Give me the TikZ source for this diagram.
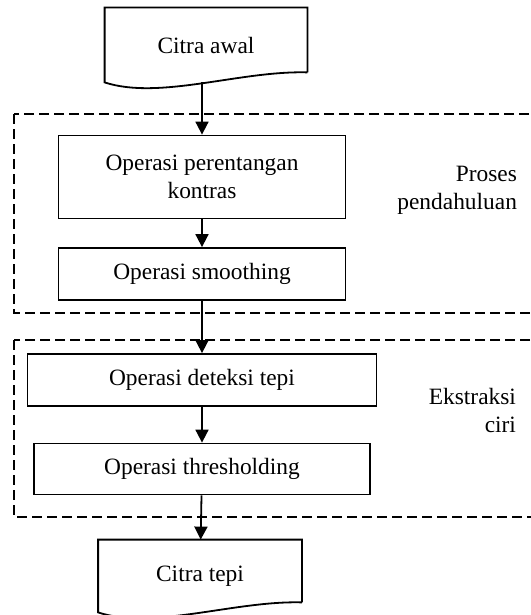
\documentclass[tikz,border=0pt]{standalone}
\usepackage{fontspec}
\setmainfont{Liberation Serif}
\usetikzlibrary{positioning,arrows.meta}

\tikzset{
	proses/.style = {draw, line width=0.9pt, align=center, inner sep=0pt},
	dokumen/.style = {align=center, inner sep=0pt, minimum width=101pt, minimum height=37pt},
	panah/.style = {line width=0.9pt, -{Triangle[length=6.5pt,width=6.5pt]}},
	garisputus/.style = {line width=1pt, dash pattern=on 5pt off 2.5pt},
	ket/.style = {align=right, anchor=east}
}

\begin{document}
\begin{tikzpicture}[x=0.5pt, y=-0.5pt, font=\fontsize{11.7}{14}\selectfont]
	\useasboundingbox (0,0) rectangle (530,615);
	% kelompok proses
	\draw[garisputus] (14,114) rectangle (545,313);
	\draw[garisputus] (14,340) rectangle (545,517);
	% simpul
	\node[dokumen] (awal) at (206,45) {Citra awal};
	\node[proses, minimum width=143.5pt, minimum height=41.5pt] (kontras) at (202,177) {Operasi perentangan\\kontras};
	\node[proses, minimum width=143.5pt, minimum height=26pt] (smoothing) at (202,274) {Operasi smoothing};
	\node[proses, minimum width=174.5pt, minimum height=26pt] (deteksi) at (202,380) {Operasi deteksi tepi};
	\node[proses, minimum width=168pt, minimum height=25.5pt] (threshold) at (202,469) {Operasi thresholding};
	\node[dokumen, minimum width=101.5pt, minimum height=36pt] (tepi) at (200,576) {Citra tepi};
	\node[ket] (praproses) at (524,190) {Proses\\pendahuluan};
	\node[ket] (ekstraksi) at (523,410) {Ekstraksi\\ciri};
	% bentuk dokumen
	\foreach \n in {awal,tepi}
		\draw[line width=0.9pt] ([yshift=5pt]\n.south east) -- (\n.north east) -- (\n.north west) -- (\n.south west)
			.. controls +(55,18) and +(-67,-2) .. ([yshift=5pt]\n.south east);
	% panah
	\draw[panah] (awal.south -| kontras.north) -- (kontras.north);
	\draw[panah] (kontras) -- (smoothing);
	\draw[panah] (smoothing) -- (deteksi);
	\draw[panah] (deteksi) -- (threshold);
	\draw[panah] (threshold) -- (tepi);
\end{tikzpicture}
\end{document}
